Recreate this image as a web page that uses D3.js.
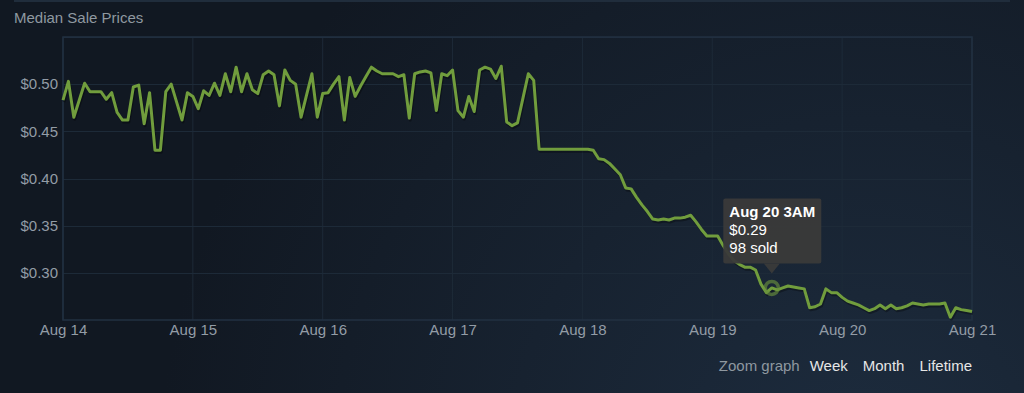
<!DOCTYPE html>
<html>
<head>
<meta charset="utf-8">
<script src="https://cdn.jsdelivr.net/npm/d3@7"></script>
<style>
  html, body { margin: 0; padding: 0; background: #111923; }
  svg { display: block; font-family: "Liberation Sans", Arial, sans-serif; }
</style>
</head>
<body>
<div id="chart"></div>
<script>
let width = 1024;
let height = 393;

// hourly median price, Aug 14 00:00 .. Aug 21 00:00
let startDate = new Date(2019, 7, 14);
let prices = [
  0.483, 0.503, 0.465, 0.483, 0.501, 0.492, 0.492, 0.492, 0.484, 0.491, 0.470, 0.462,
  0.462, 0.497, 0.499, 0.458, 0.491, 0.430, 0.430, 0.492, 0.500, 0.481, 0.462, 0.491,
  0.487, 0.474, 0.493, 0.488, 0.501, 0.488, 0.511, 0.492, 0.518, 0.492, 0.511, 0.494,
  0.490, 0.510, 0.514, 0.510, 0.477, 0.515, 0.504, 0.500, 0.465, 0.488, 0.511, 0.465,
  0.490, 0.491, 0.500, 0.508, 0.462, 0.507, 0.487, 0.498, 0.508, 0.518, 0.514, 0.511,
  0.511, 0.511, 0.508, 0.510, 0.464, 0.511, 0.513, 0.514, 0.512, 0.472, 0.511, 0.509,
  0.515, 0.472, 0.465, 0.487, 0.471, 0.515, 0.518, 0.516, 0.506, 0.519, 0.460, 0.456,
  0.459, 0.485, 0.511, 0.504, 0.431, 0.431, 0.431, 0.431, 0.431, 0.431, 0.431, 0.431,
  0.431, 0.431, 0.430, 0.421, 0.420, 0.416, 0.410, 0.404, 0.390, 0.389, 0.380, 0.372,
  0.365, 0.357, 0.356, 0.357, 0.356, 0.358, 0.358, 0.359, 0.361, 0.354, 0.346, 0.339,
  0.339, 0.339, 0.329, 0.320, 0.313, 0.309, 0.306, 0.306, 0.303, 0.288, 0.279, 0.284,
  0.282, 0.284, 0.286, 0.285, 0.284, 0.283, 0.263, 0.264, 0.267, 0.283, 0.279, 0.279,
  0.274, 0.270, 0.268, 0.266, 0.263, 0.260, 0.262, 0.266, 0.262, 0.266, 0.262, 0.263,
  0.265, 0.268, 0.267, 0.266, 0.267, 0.267, 0.267, 0.268, 0.253, 0.263, 0.261, 0.260,
  0.259
];
let yTicks = [0.30, 0.35, 0.40, 0.45, 0.50];
let dayLabels = ["Aug 14", "Aug 15", "Aug 16", "Aug 17", "Aug 18", "Aug 19", "Aug 20", "Aug 21"];
let zoomLinks = ["Week", "Month", "Lifetime"];

// hovered point and its tooltip
let hoverIndex = 131;
let tooltipLines = ["Aug 20 3AM", "$0.29", "98 sold"];

let data = prices.map(function(p, i) {
  return { date: d3.timeHour.offset(startDate, i), price: p };
});

let margin = { left: 63, right: 52, top: 37, bottom: 73 };

let x = d3.scaleTime()
  .domain([startDate, d3.timeDay.offset(startDate, 7)])
  .range([margin.left, width - margin.right]);

let y = d3.scaleLinear()
  .domain([0.25, 0.55])
  .range([height - margin.bottom, margin.top]);

let svg = d3.select("#chart")
  .append("svg")
  .attr("width", width)
  .attr("height", height);

// background
let defs = svg.append("defs");
let grad = defs.append("radialGradient")
  .attr("id", "bg")
  .attr("gradientUnits", "userSpaceOnUse")
  .attr("cx", 860).attr("cy", 470).attr("r", 700);
grad.append("stop").attr("offset", "0%").attr("stop-color", "#1d2c3e");
grad.append("stop").attr("offset", "100%").attr("stop-color", "#111822");

svg.append("rect")
  .attr("width", width)
  .attr("height", height)
  .attr("fill", "url(#bg)");

svg.append("rect")
  .attr("x", 14).attr("y", 0)
  .attr("width", width - 28).attr("height", 2)
  .attr("fill", "#202d3c");

svg.append("text")
  .attr("x", 14)
  .attr("y", 23)
  .attr("fill", "#8f98a0")
  .style("font-size", "15px")
  .text("Median Sale Prices");

// grid
let days = d3.range(dayLabels.length).map(function(i) { return d3.timeDay.offset(startDate, i); });

svg.append("g")
  .selectAll("line")
  .data(days)
  .enter().append("line")
    .attr("x1", function(d) { return x(d); })
    .attr("x2", function(d) { return x(d); })
    .attr("y1", margin.top)
    .attr("y2", height - margin.bottom)
    .attr("stroke", "#1d2a38")
    .attr("stroke-width", 1);

svg.append("g")
  .selectAll("line")
  .data(yTicks.concat([0.55]))
  .enter().append("line")
    .attr("x1", margin.left)
    .attr("x2", width - margin.right)
    .attr("y1", function(d) { return Math.round(y(d)) + 0.5; })
    .attr("y2", function(d) { return Math.round(y(d)) + 0.5; })
    .attr("stroke", "#1d2a38")
    .attr("stroke-width", 1);

// frame
svg.append("rect")
  .attr("x", margin.left)
  .attr("y", margin.top)
  .attr("width", width - margin.left - margin.right)
  .attr("height", height - margin.top - margin.bottom)
  .attr("fill", "none")
  .attr("stroke", "#223142")
  .attr("stroke-width", 1.5);

// axes
let yAxis = d3.axisLeft(y)
  .tickValues(yTicks)
  .tickSize(0)
  .tickPadding(5)
  .tickFormat(function(d) { return "$" + d3.format(".2f")(d); });

let yg = svg.append("g")
  .attr("transform", "translate(" + margin.left + ",0)")
  .call(yAxis);

let xAxis = d3.axisBottom(x)
  .tickValues(days)
  .tickSize(0)
  .tickPadding(4)
  .tickFormat(function(d, i) { return dayLabels[i]; });

let xg = svg.append("g")
  .attr("transform", "translate(0," + (height - margin.bottom) + ")")
  .call(xAxis);

[yg, xg].forEach(function(g) {
  g.select(".domain").remove();
  g.selectAll("text")
    .attr("fill", "#939ca6")
    .style("font-size", "15px")
    .style("font-family", "'Liberation Sans', Arial, sans-serif");
});

// price line
let line = d3.line()
  .x(function(d) { return x(d.date); })
  .y(function(d) { return y(d.price); });

svg.append("path")
  .datum(data)
  .attr("d", line)
  .attr("transform", "translate(1,2)")
  .attr("fill", "none")
  .attr("stroke", "rgba(0,0,0,0.3)")
  .attr("stroke-width", 3)
  .attr("stroke-linejoin", "round");

svg.append("path")
  .datum(data)
  .attr("d", line)
  .attr("fill", "none")
  .attr("stroke", "#719d3d")
  .attr("stroke-width", 3)
  .attr("stroke-linejoin", "round");

// hover marker + tooltip
let hp = data[hoverIndex];
let hx = x(hp.date);
let hy = y(hp.price);

svg.append("circle")
  .attr("cx", hx)
  .attr("cy", hy)
  .attr("r", 6.5)
  .attr("fill", "none")
  .attr("stroke", "rgba(104,143,62,0.65)")
  .attr("stroke-width", 3.5);

let tip = svg.append("g");
let tipW = 98, tipH = 65;
let tipX = hx - 48.5, tipY = hy - 89.5;

tip.append("rect")
  .attr("x", tipX)
  .attr("y", tipY)
  .attr("width", tipW)
  .attr("height", tipH)
  .attr("rx", 2)
  .attr("fill", "rgba(58,58,58,0.95)");

tip.append("path")
  .attr("d", "M" + (hx - 8) + "," + (tipY + tipH) + "L" + hx + "," + (tipY + tipH + 10) + "L" + (hx + 8) + "," + (tipY + tipH) + "Z")
  .attr("fill", "rgba(58,58,58,0.95)");

tip.selectAll("text")
  .data(tooltipLines)
  .enter().append("text")
    .attr("x", tipX + 6)
    .attr("y", function(d, i) { return tipY + 19 + i * 18; })
    .attr("fill", "#ffffff")
    .style("font-size", "15px")
    .style("font-weight", function(d, i) { return i === 0 ? "bold" : "normal"; })
    .text(function(d) { return d; });

// zoom controls, laid out right to left
let zoomRow = svg.append("g").attr("transform", "translate(972,371)");
let zx = 0;
zoomLinks.slice().reverse().forEach(function(label) {
  let t = zoomRow.append("text")
    .attr("x", zx)
    .attr("text-anchor", "end")
    .attr("fill", "#e6e6e6")
    .style("font-size", "15px")
    .text(label);
  zx -= t.node().getComputedTextLength() + 15;
});
zoomRow.append("text")
  .attr("x", zx + 5)
  .attr("text-anchor", "end")
  .attr("fill", "#8f98a0")
  .style("font-size", "15px")
  .text("Zoom graph");
</script>
</body>
</html>
